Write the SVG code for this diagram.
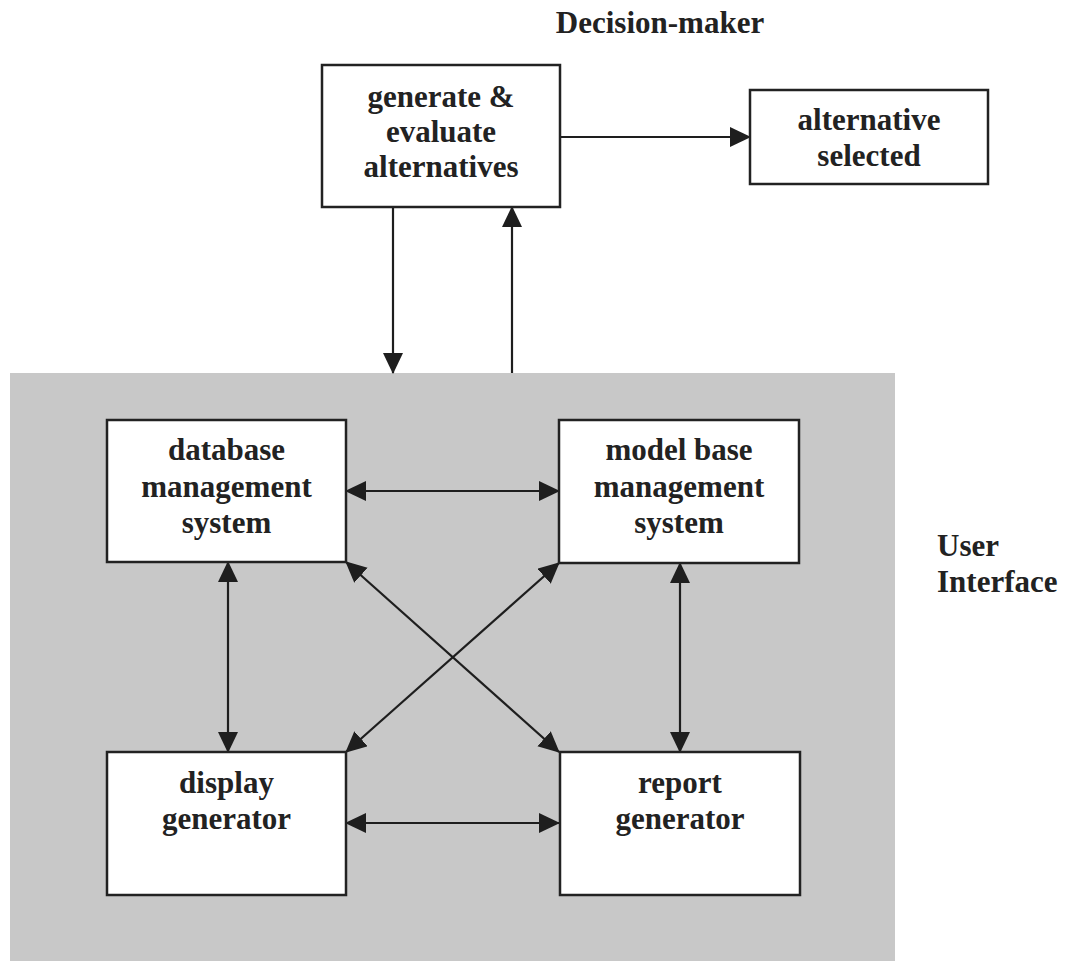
<svg xmlns="http://www.w3.org/2000/svg" width="1065" height="961" viewBox="0 0 1065 961">
  <style>
    .box { fill: #ffffff; stroke: #222222; stroke-width: 2.5; }
    .lbl { font-family: "Liberation Serif", "Times New Roman", serif; font-weight: bold; font-size: 31px; fill: #222222; text-anchor: middle; }
    .side { font-family: "Liberation Serif", "Times New Roman", serif; font-weight: bold; font-size: 31px; fill: #222222; }
    .wire { fill: none; stroke: #1e1e1e; stroke-width: 2.2; }
  </style>
  <defs>
    <marker id="head" markerUnits="userSpaceOnUse" markerWidth="22" markerHeight="22" refX="20" refY="10" orient="auto-start-reverse">
      <path d="M0,0 L21,10 L0,20 z" fill="#1e1e1e"/>
    </marker>
  </defs>

  <rect width="1065" height="961" fill="#ffffff"/>

  <!-- user interface panel -->
  <rect id="ui-panel" x="10" y="373" width="885" height="588" fill="#c8c8c8"/>

  <text class="lbl" x="660" y="33">Decision-maker</text>
  <text class="side" x="937" y="556">User</text>
  <text class="side" x="937" y="592">Interface</text>

  <g id="connectors">
    <line class="wire" x1="560" y1="137" x2="750" y2="137" marker-end="url(#head)"/>
    <line class="wire" x1="393" y1="207" x2="393" y2="373" marker-end="url(#head)"/>
    <line class="wire" x1="512" y1="373" x2="512" y2="207" marker-end="url(#head)"/>
    <line class="wire" x1="346" y1="491" x2="559" y2="491" marker-start="url(#head)" marker-end="url(#head)"/>
    <line class="wire" x1="346" y1="823" x2="559" y2="823" marker-start="url(#head)" marker-end="url(#head)"/>
    <line class="wire" x1="228" y1="562" x2="228" y2="752" marker-start="url(#head)" marker-end="url(#head)"/>
    <line class="wire" x1="680" y1="563" x2="680" y2="752" marker-start="url(#head)" marker-end="url(#head)"/>
    <line class="wire" x1="346" y1="562" x2="559" y2="752" marker-start="url(#head)" marker-end="url(#head)"/>
    <line class="wire" x1="559" y1="563" x2="346" y2="752" marker-start="url(#head)" marker-end="url(#head)"/>
  </g>

  <g id="generate">
    <rect class="box" x="322" y="65" width="238" height="142"/>
    <text class="lbl" x="441" y="107">generate &amp;</text>
    <text class="lbl" x="441" y="142">evaluate</text>
    <text class="lbl" x="441" y="177">alternatives</text>
  </g>

  <g id="selected">
    <rect class="box" x="750" y="90" width="238" height="94"/>
    <text class="lbl" x="869" y="130">alternative</text>
    <text class="lbl" x="869" y="166">selected</text>
  </g>

  <g id="dbms">
    <rect class="box" x="107" y="420" width="239" height="142"/>
    <text class="lbl" x="226.5" y="460">database</text>
    <text class="lbl" x="226.5" y="497">management</text>
    <text class="lbl" x="226.5" y="533">system</text>
  </g>

  <g id="mbms">
    <rect class="box" x="559" y="420" width="240" height="143"/>
    <text class="lbl" x="679" y="460">model base</text>
    <text class="lbl" x="679" y="497">management</text>
    <text class="lbl" x="679" y="533">system</text>
  </g>

  <g id="display">
    <rect class="box" x="107" y="752" width="239" height="143"/>
    <text class="lbl" x="226.5" y="793">display</text>
    <text class="lbl" x="226.5" y="829">generator</text>
  </g>

  <g id="report">
    <rect class="box" x="560" y="752" width="240" height="143"/>
    <text class="lbl" x="680" y="793">report</text>
    <text class="lbl" x="680" y="829">generator</text>
  </g>
</svg>
